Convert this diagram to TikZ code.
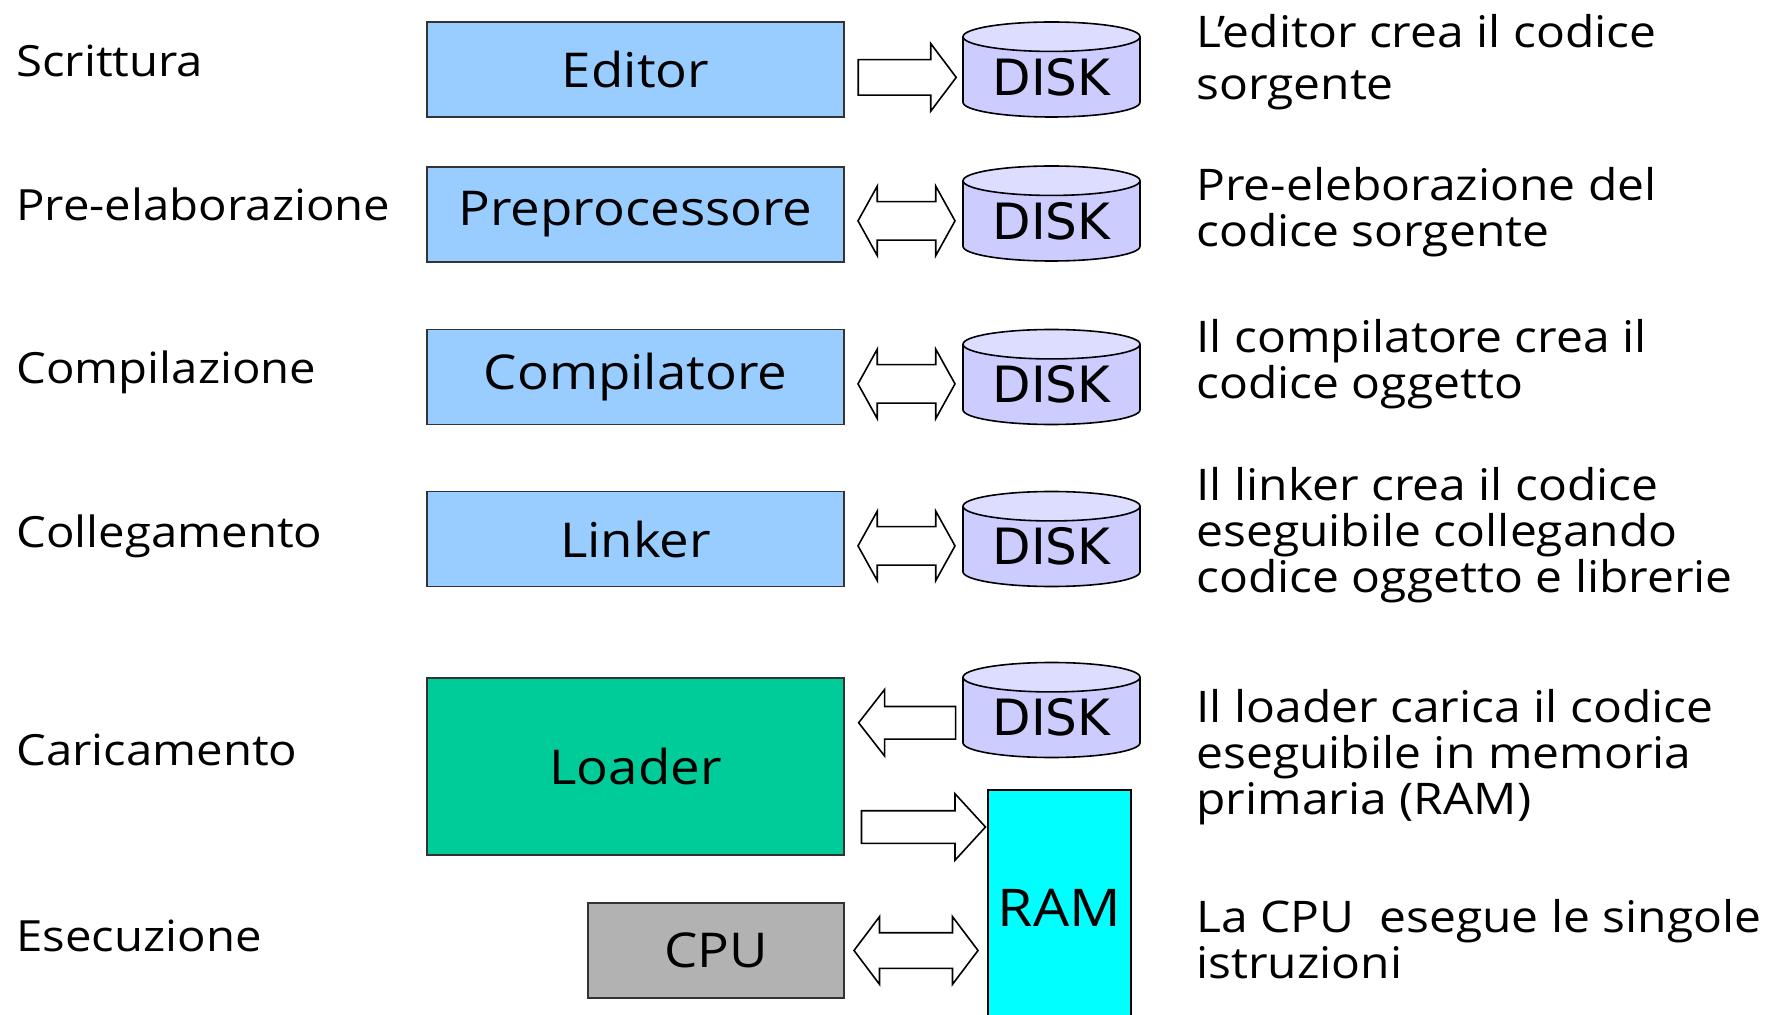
\documentclass[tikz,border=0pt]{standalone}
\usepackage{fontspec}
\setmainfont[FakeStretch=1.1]{Open Sans}
\newfontfamily\diskfont{DejaVu Sans}
\usetikzlibrary{shapes.geometric,shapes.arrows,calc}
\definecolor{boxblue}{HTML}{99CCFF}
\definecolor{diskbody}{HTML}{CCCCFF}
\definecolor{disktop}{HTML}{DDDDFF}
\definecolor{loadergreen}{HTML}{00CC99}
\definecolor{cpugray}{HTML}{B2B2B2}
\definecolor{ramcyan}{HTML}{00FFFF}
\tikzset{
  stage/.style={draw=black!80, line width=0.8pt, fill=boxblue, minimum width=208.5pt,
    minimum height=47.5pt, inner sep=0pt, font=\fontsize{24}{28}\selectfont},
  disk/.style={cylinder, shape border rotate=90, aspect=0.25, draw, line width=0.8pt,
    cylinder uses custom fill, cylinder body fill=diskbody, cylinder end fill=disktop,
    minimum width=88.5pt, minimum height=47.5pt, inner sep=0pt, anchor=shape center,
    font=\diskfont\fontsize{25}{30}\selectfont},
  phase/.style={anchor=base west, inner sep=0pt, font=\fontsize{21.5}{26}\selectfont},
  note/.style={anchor=base west, inner sep=0pt, align=left, font=\fontsize{21.8}{23}\selectfont},
  fwd/.style={single arrow, draw, fill=white, line width=0.8pt, inner xsep=0pt, minimum width=0pt},
  both/.style={double arrow, draw, fill=white, line width=0.8pt, inner xsep=0pt, minimum width=0pt},
}
\begin{document}
\begin{tikzpicture}[x=0.5pt,y=-0.5pt]
  \useasboundingbox (0,0) rectangle (1771,1015);
  % fasi
  \node[phase] (lscr) at (16,77) {Scrittura};
  \node[phase] (lpre) at (16,221) {Pre-elaborazione};
  \node[phase] (lcom) at (16,384) {Compilazione};
  \node[phase] (lcol) at (16,547) {Collegamento};
  \node[phase] (lcar) at (16,765) {Caricamento};
  \node[phase] (lese) at (16,951) {Esecuzione};
  % programmi
  \node[stage] (editor) at (635.5,69.5) {Editor};
  \node[stage] (prep) at (635.5,214.5) {Preprocessore};
  \node[stage] (comp) at (635.5,377) {Compilatore};
  \node[stage] (linker) at (635.5,539) {Linker};
  \node[stage, fill=loadergreen, minimum height=88.5pt] (loader) at (635.5,766.5) {Loader};
  \node[stage, fill=cpugray, minimum width=128pt] (cpu) at (716,950.5) {CPU};
  \node[draw, line width=0.8pt, fill=ramcyan, minimum width=71.5pt, minimum height=117.5pt,
    font=\fontsize{26}{30}\selectfont] (ram) at (1059.5,907.5) {RAM};
  \foreach \n/\y in {1/69.5,2/213.5,3/377,4/539,5/710}
    \node[disk] (disk\n) at (1051.5,\y) {DISK};
  % frecce
  \node[fwd, minimum height=49pt, inner ysep=8.5pt, single arrow head extend=8pt,
    single arrow tip angle=106] (a1) at ($(editor.east)!0.5!(disk1.west)+(-3,4)$) {};
  \foreach \s/\d in {prep/2,comp/3,linker/4}
    \node[both, minimum height=48.5pt, inner ysep=9.25pt, double arrow head extend=7.75pt,
      double arrow tip angle=122] (a\d) at ($(\s.east)!0.5!(disk\d.west)+(3,3)$) {};
  \node[fwd, shape border rotate=180, minimum height=48.5pt, inner ysep=7.75pt,
    single arrow head extend=8.5pt, single arrow tip angle=104]
    (a5) at ($(loader.east |- disk5.west)!0.5!(disk5.west)+(10,5)$) {};
  \coordinate (ramin) at (ram.west |- 0,827);
  \node[fwd, minimum height=62pt, inner ysep=7.75pt, single arrow head extend=8.5pt,
    single arrow tip angle=95] (a6) at ($(loader.east |- ramin)!0.5!(ramin)$) {};
  \node[both, minimum height=62pt, inner ysep=8.5pt, double arrow head extend=8pt,
    double arrow tip angle=106] (a7) at ($(cpu.east)!0.5!(ram.west |- cpu.east)$) {};
  % descrizioni
  \node[note, font=\fontsize{21.8}{26}\selectfont] (n1) at (1196,100) {L'editor crea il codice\\sorgente};
  \node[note] (n2) at (1196,247) {Pre-eleborazione del\\codice sorgente};
  \node[note] (n3) at (1196,399) {Il compilatore crea il\\codice oggetto};
  \node[note] (n4) at (1196,592) {Il linker crea il codice\\eseguibile collegando\\codice oggetto e librerie};
  \node[note] (n5) at (1196,814) {Il loader carica il codice\\eseguibile in memoria\\primaria (RAM)};
  \node[note] (n6) at (1196,978) {La CPU\ \ esegue le singole\\istruzioni};
\end{tikzpicture}
\end{document}
